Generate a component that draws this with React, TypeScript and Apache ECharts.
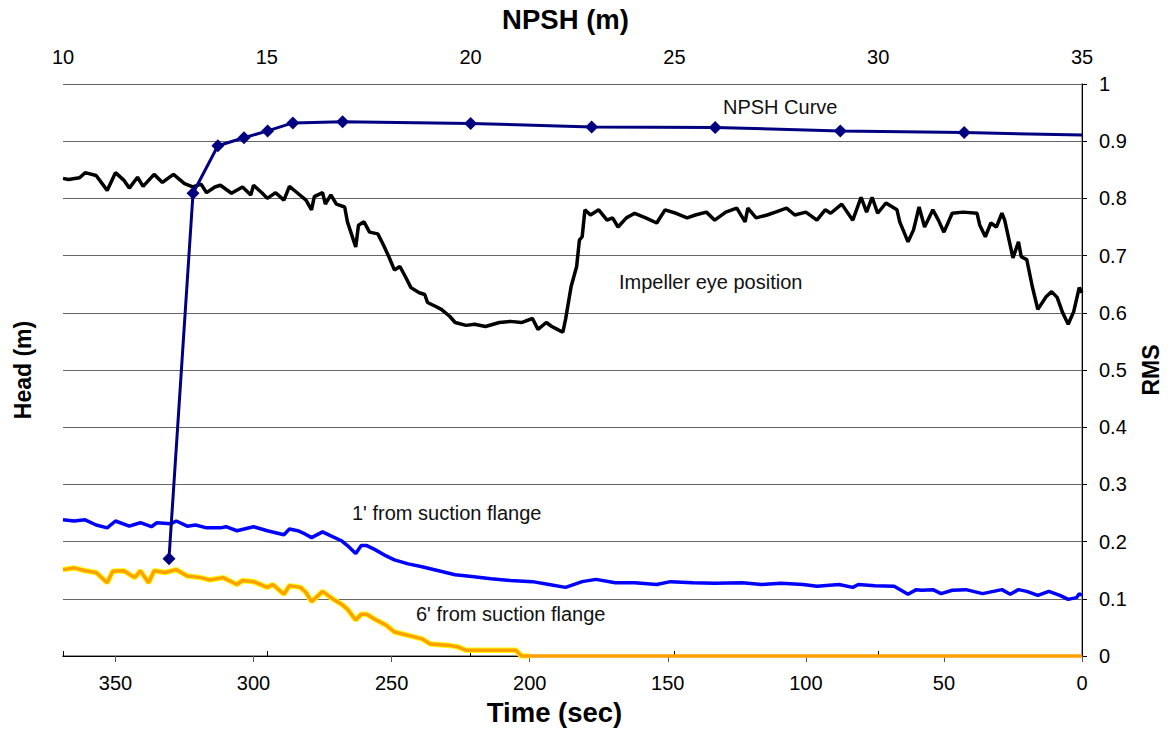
import React, { useEffect, useRef } from "react";
import * as echarts from "echarts";

// Tick labels
const timeTicks = [0, 50, 100, 150, 200, 250, 300, 350];

// NPSH curve: [NPSH (m), Head] (head shown on unlabeled left axis, same scale as grid)
const npshCurve: number[][] = [
  [12.6, 0.17], [13.19, 0.809], [13.8, 0.892], [14.44, 0.906], [15.02, 0.918],
  [15.64, 0.932], [16.86, 0.934], [20.0, 0.931], [22.97, 0.925], [26.0, 0.924],
  [29.07, 0.918], [32.11, 0.915], [35, 0.911],
];

// Impeller eye position: [time (sec), RMS]
const impellerEye: number[][] = [
  [369, 0.835], [367, 0.833], [363, 0.836], [361, 0.845], [357, 0.84], [353, 0.814], [350, 0.845],
  [347, 0.832], [345, 0.818], [342, 0.837], [340, 0.821], [336, 0.842], [333, 0.828], [329, 0.842],
  [325, 0.826], [322, 0.82], [319, 0.825], [317, 0.81], [314, 0.82], [312, 0.823], [308, 0.809],
  [304, 0.82], [301, 0.806], [300, 0.823], [297, 0.81], [295, 0.8], [292, 0.81], [289, 0.797],
  [287, 0.821], [284, 0.809], [281, 0.797], [279, 0.78], [278, 0.803], [275, 0.81], [274, 0.79],
  [272, 0.806], [270, 0.79], [267, 0.785], [266, 0.759], [263, 0.715], [262, 0.753], [260, 0.759],
  [258, 0.741], [255, 0.738], [253, 0.719], [251, 0.698], [249, 0.675], [247, 0.681], [245, 0.663],
  [243, 0.644], [240, 0.635], [238, 0.632], [237, 0.618], [234, 0.611], [232, 0.606], [229, 0.594],
  [227, 0.583], [223, 0.578], [220, 0.58], [216, 0.576], [211, 0.583], [207, 0.585], [203, 0.583],
  [199, 0.59], [197, 0.571], [194, 0.583], [192, 0.576], [190, 0.571], [188, 0.566], [187, 0.589],
  [185, 0.646], [183, 0.681], [182, 0.727], [181, 0.733], [180, 0.78], [178, 0.771], [175, 0.78],
  [172, 0.762], [170, 0.766], [168, 0.75], [165, 0.766], [162, 0.774], [158, 0.766], [154, 0.757],
  [151, 0.78], [147, 0.774], [143, 0.766], [140, 0.771], [136, 0.776], [133, 0.762], [129, 0.776],
  [125, 0.783], [122, 0.759], [121, 0.783], [118, 0.766], [114, 0.771], [111, 0.776], [107, 0.783],
  [104, 0.771], [100, 0.776], [96, 0.762], [93, 0.78], [91, 0.774], [87, 0.79], [83, 0.762],
  [80, 0.802], [78, 0.776], [76, 0.802], [74, 0.774], [71, 0.792], [67, 0.78], [66, 0.759],
  [63, 0.724], [61, 0.745], [59, 0.785], [57, 0.75], [54, 0.78], [52, 0.762], [50, 0.741],
  [47, 0.774], [43, 0.776], [38, 0.774], [37, 0.753], [35, 0.733], [33, 0.757], [31, 0.75],
  [29, 0.774], [28, 0.762], [25, 0.696], [23, 0.724], [22, 0.698], [20, 0.693], [18, 0.646],
  [16, 0.606], [13, 0.628], [11, 0.637], [9, 0.627], [7, 0.6], [5, 0.58], [3, 0.602], [1, 0.644],
  [0, 0.635],
];

// 1' from suction flange: [time (sec), RMS]
const oneFoot: number[][] = [
  [369, 0.238], [365, 0.236], [361, 0.238], [357, 0.229], [353, 0.224], [350, 0.236], [345, 0.227],
  [341, 0.233], [337, 0.226], [335, 0.233], [330, 0.231], [328, 0.236], [324, 0.227], [321, 0.229],
  [317, 0.224], [312, 0.224], [310, 0.226], [306, 0.219], [300, 0.226], [295, 0.219], [289, 0.212],
  [287, 0.222], [284, 0.219], [282, 0.215], [279, 0.207], [275, 0.217], [272, 0.21], [268, 0.201],
  [266, 0.193], [263, 0.179], [261, 0.193], [259, 0.193], [256, 0.186], [252, 0.175], [249, 0.168],
  [244, 0.161], [239, 0.156], [233, 0.149], [227, 0.142], [221, 0.139], [214, 0.135], [207, 0.132],
  [199, 0.13], [193, 0.125], [187, 0.12], [181, 0.13], [176, 0.134], [169, 0.128], [162, 0.128],
  [154, 0.125], [149, 0.13], [141, 0.128], [133, 0.127], [123, 0.128], [116, 0.125], [109, 0.127],
  [101, 0.125], [96, 0.122], [88, 0.125], [83, 0.12], [81, 0.125], [75, 0.123], [68, 0.122],
  [63, 0.108], [60, 0.116], [58, 0.115], [54, 0.116], [51, 0.109], [47, 0.115], [42, 0.116],
  [36, 0.109], [29, 0.116], [26, 0.108], [23, 0.116], [20, 0.113], [16, 0.106], [12, 0.113],
  [8, 0.106], [5, 0.099], [2, 0.102], [1, 0.109], [0, 0.106],
];

// 6' from suction flange: [time (sec), RMS]
const sixFoot: number[][] = [
  [369, 0.151], [365, 0.154], [361, 0.149], [357, 0.146], [353, 0.128], [351, 0.148], [347, 0.149],
  [343, 0.137], [341, 0.149], [338, 0.128], [336, 0.149], [332, 0.146], [328, 0.151], [324, 0.14],
  [319, 0.137], [316, 0.133], [311, 0.137], [306, 0.125], [304, 0.132], [300, 0.13], [295, 0.12],
  [293, 0.125], [289, 0.108], [287, 0.123], [283, 0.12], [281, 0.111], [279, 0.095], [275, 0.113],
  [272, 0.102], [268, 0.09], [266, 0.082], [263, 0.063], [261, 0.073], [259, 0.073], [256, 0.064],
  [252, 0.054], [249, 0.042], [244, 0.036], [239, 0.03], [236, 0.021], [230, 0.019], [226, 0.016],
  [223, 0.01], [216, 0.01], [205, 0.01], [203, 0], [200, 0], [0, 0],
];

const FONT = '"Liberation Sans", Arial, sans-serif';

export default function App() {
  const ref = useRef<HTMLDivElement>(null);
  useEffect(() => {
    const chart = echarts.init(ref.current!, null, { renderer: "svg" });
    const labelStyle = { color: "#000", fontSize: 20, fontFamily: FONT };
    const hNameStyle = { color: "#000", fontSize: 27.5, fontWeight: "bold" as const, fontFamily: FONT };
    const vNameStyle = { color: "#000", fontSize: 23, fontWeight: "bold" as const, fontFamily: FONT };
    const annFont = `20px ${FONT}`;
    chart.setOption({
      animation: false,
      backgroundColor: "#fff",
      textStyle: { fontFamily: FONT },
      grid: { left: 63, right: 87, top: 83, bottom: 72, containLabel: false },
      xAxis: [
        {
          type: "value",
          position: "bottom",
          min: 0,
          max: 369,
          inverse: true,
          name: "Time (sec)",
          nameLocation: "middle",
          nameGap: 42,
          nameTextStyle: { ...hNameStyle, padding: [0, 36, 0, 0] },
          axisLine: { show: true, lineStyle: { color: "#777", width: 1.5 } },
          axisTick: { show: true, length: 6, lineStyle: { color: "#555" }, customValues: timeTicks },
          axisLabel: { ...labelStyle, margin: 17, customValues: timeTicks },
          splitLine: { show: false },
        },
        {
          type: "value",
          position: "top",
          min: 10,
          max: 35,
          interval: 5,
          name: "NPSH (m)",
          nameLocation: "middle",
          nameGap: 51,
          nameTextStyle: { ...hNameStyle, padding: [0, 14, 0, 0] },
          axisLine: { show: true, lineStyle: { color: "#000", width: 1 } },
          axisTick: { show: true, length: 5, lineStyle: { color: "#000" } },
          axisLabel: { ...labelStyle, margin: 17 },
          splitLine: { show: false },
        },
      ],
      yAxis: [
        {
          type: "value",
          position: "left",
          min: 0,
          max: 1,
          name: "Head (m)",
          nameLocation: "middle",
          nameGap: 29,
          nameTextStyle: vNameStyle,
          axisLine: { show: true, lineStyle: { color: "#888", width: 1.5 } },
          axisTick: { show: false },
          axisLabel: { show: false },
          splitLine: { show: false },
        },
        {
          type: "value",
          position: "right",
          min: 0,
          max: 1,
          interval: 0.1,
          name: "RMS",
          nameLocation: "middle",
          nameGap: 57,
          nameTextStyle: vNameStyle,
          axisLine: { show: true, lineStyle: { color: "#000", width: 1 } },
          axisTick: { show: true, length: 5, lineStyle: { color: "#000" } },
          axisLabel: { ...labelStyle, margin: 17 },
          splitLine: { show: true, lineStyle: { color: "#666", width: 1 } },
        },
      ],
      graphic: [
        { type: "text", left: 723, top: 97, style: { text: "NPSH Curve", font: annFont, fill: "#111" } },
        { type: "text", left: 619, top: 272, style: { text: "Impeller eye position", font: annFont, fill: "#111" } },
        { type: "text", left: 352, top: 503, style: { text: "1' from suction flange", font: annFont, fill: "#111" } },
        { type: "text", left: 416, top: 604, style: { text: "6' from suction flange", font: annFont, fill: "#111" } },
      ],
      series: [
        {
          name: "Impeller eye position",
          type: "line",
          xAxisIndex: 0,
          yAxisIndex: 1,
          data: impellerEye,
          symbol: "none",
          lineStyle: { color: "#000", width: 3.5 },
          z: 3,
        },
        {
          name: "1' from suction flange",
          type: "line",
          xAxisIndex: 0,
          yAxisIndex: 1,
          data: oneFoot,
          symbol: "none",
          lineStyle: { color: "#0000ff", width: 3.5 },
          z: 3,
        },
        {
          name: "6' raw",
          type: "line",
          xAxisIndex: 0,
          yAxisIndex: 1,
          data: sixFoot.filter((p) => p[0] >= 200),
          symbol: "none",
          lineStyle: { color: "#ffff00", width: 5.5 },
          z: 3,
        },
        {
          name: "6' from suction flange",
          type: "line",
          xAxisIndex: 0,
          yAxisIndex: 1,
          data: sixFoot,
          symbol: "none",
          clip: false,
          lineStyle: { color: "#ffa000", width: 3.5 },
          z: 4,
        },
        {
          name: "NPSH Curve",
          type: "line",
          xAxisIndex: 1,
          yAxisIndex: 0,
          data: npshCurve.map((p, i) =>
            i === npshCurve.length - 1 ? { value: p, symbol: "none" } : { value: p }
          ),
          symbol: "diamond",
          symbolSize: 13,
          itemStyle: { color: "#000080" },
          lineStyle: { color: "#000080", width: 3 },
          z: 6,
        },
      ],
    });
    return () => chart.dispose();
  }, []);
  return (
    <div
      ref={ref}
      style={{ position: "fixed", left: 0, top: 0, width: 1170, height: 731, background: "#fff" }}
    />
  );
}
